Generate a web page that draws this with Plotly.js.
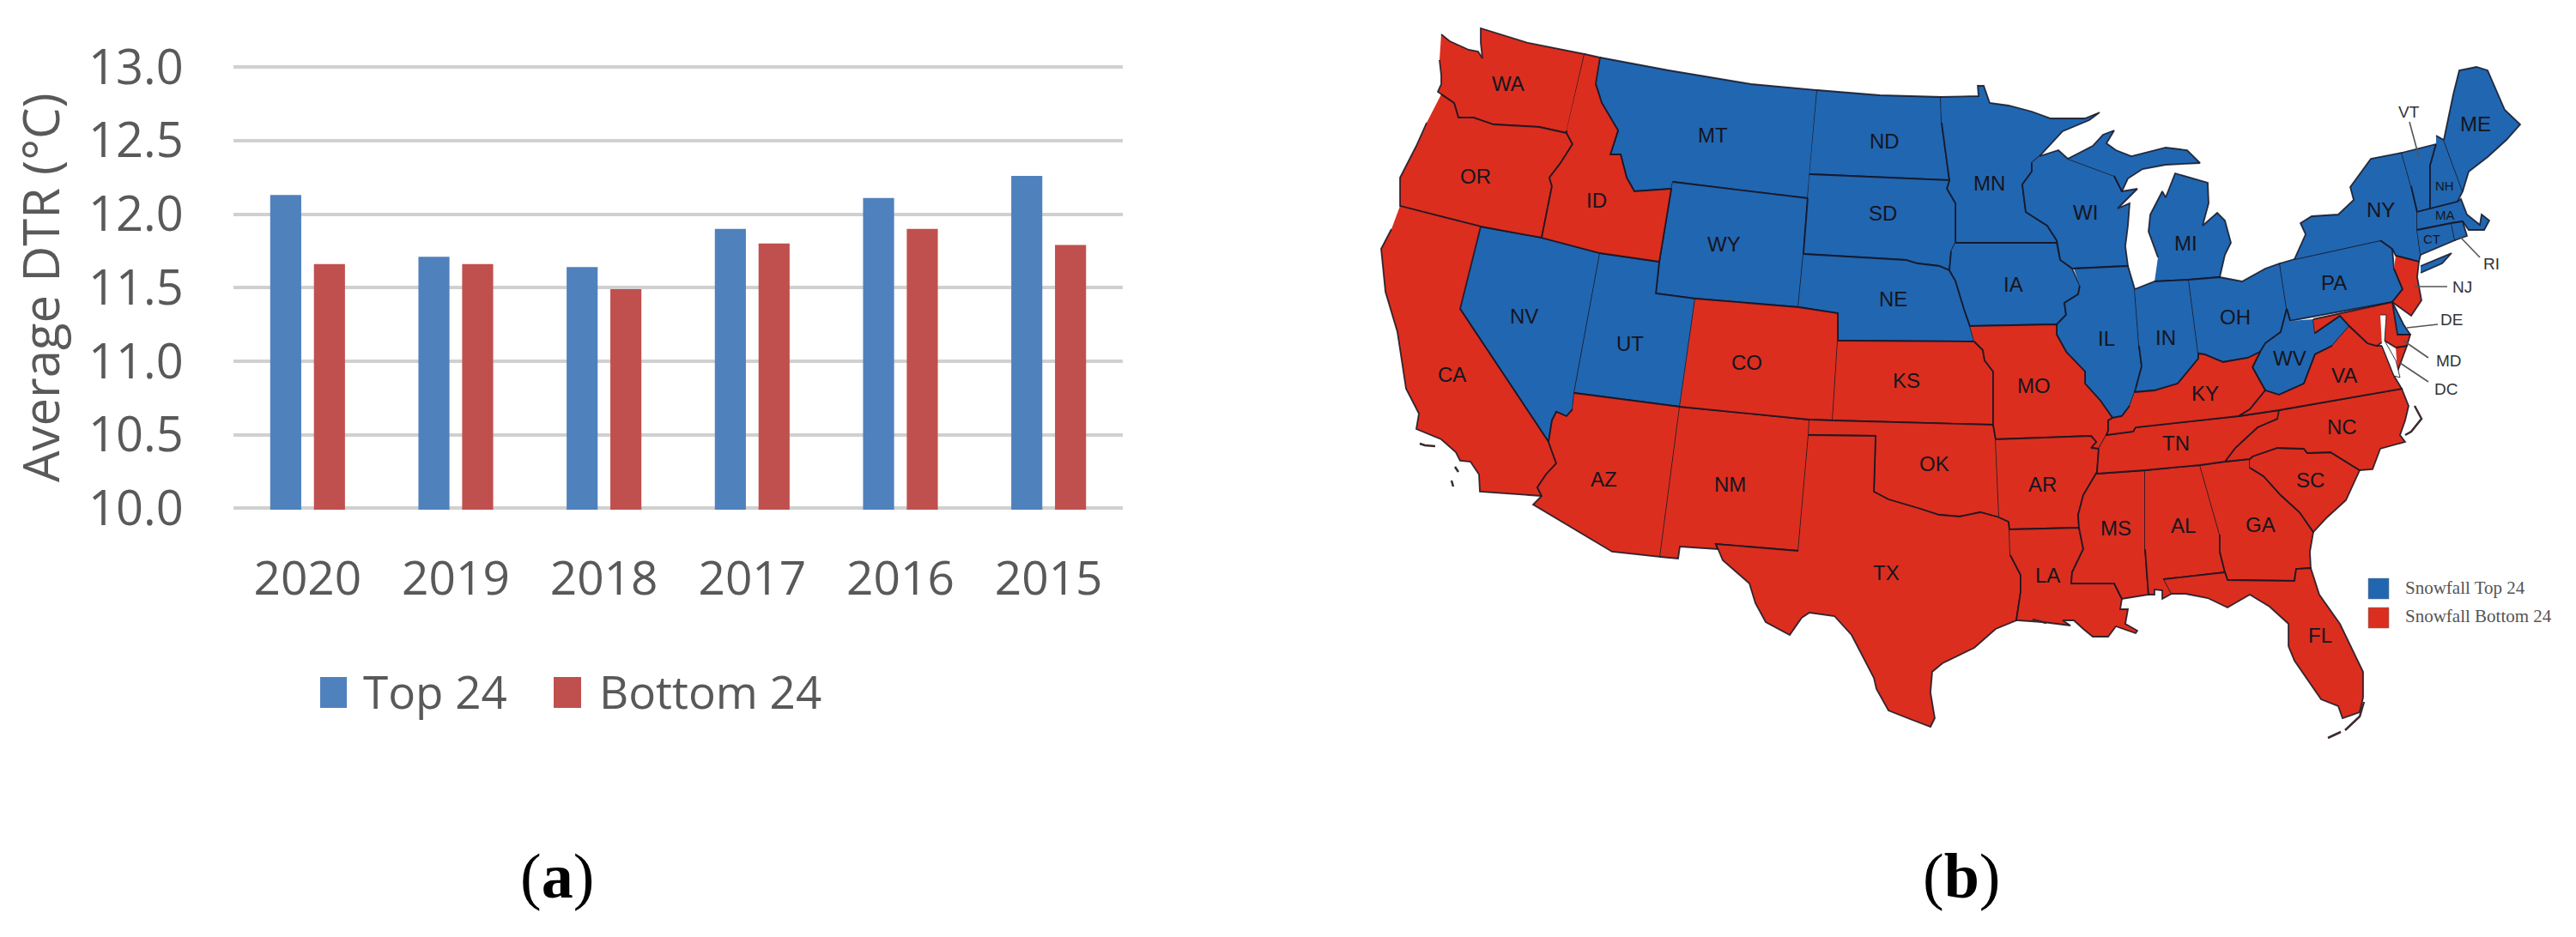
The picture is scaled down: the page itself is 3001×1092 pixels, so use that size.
<!DOCTYPE html>
<html>
<head>
<meta charset="utf-8">
<script src="https://cdn.plot.ly/plotly-3.0.1.min.js"></script>
<style>body{margin:0;background:#fff}</style>
</head>
<body>
<div id="plot" style="width:3001px;height:1092px"></div>
<script>
// bar chart values
var years = ['2020', '2019', '2018', '2017', '2016', '2015'];
var top24 = [12.13, 11.71, 11.64, 11.90, 12.11, 12.26];
var bottom24 = [11.66, 11.66, 11.49, 11.80, 11.90, 11.79];

// state outlines, in picture pixels
var WA = [[1679,40],[1689,48],[1711,58],[1722,60],[1727,68],[1725,50],[1725,33],[1780,50],[1846,63],[1825,152],[1825,155],[1793,148],[1759,146],[1740,145],[1716,137],[1699,137],[1694,120],[1679,110],[1675,107],[1679,98],[1679,88],[1677,70]];
var OR = [[1679,110],[1694,120],[1699,137],[1716,137],[1740,145],[1759,146],[1793,148],[1825,155],[1832,168],[1818,190],[1805,207],[1808,217],[1796,277],[1725,264],[1631,240],[1631,207],[1650,170],[1662,143]];
var ID = [[1846,63],[1864,67],[1859,98],[1866,120],[1885,152],[1876,180],[1888,180],[1895,207],[1904,223],[1947,220],[1933,305],[1864,295],[1796,277],[1808,217],[1805,207],[1818,190],[1832,168],[1825,155],[1825,152]];
var MT = [[1864,67],[1944,82],[2040,98],[2117,105],[2106,231],[1949,212],[1947,220],[1904,223],[1895,207],[1888,180],[1876,180],[1885,152],[1866,120],[1859,98]];
var ND = [[2117,105],[2190,111],[2261,113],[2262,143],[2271,210],[2108,203]];
var SD = [[2108,203],[2271,210],[2268,220],[2278,237],[2278,283],[2273,293],[2271,315],[2259,310],[2234,307],[2220,303],[2101,296],[2106,231]];
var WY = [[1949,212],[2106,231],[2101,296],[2095,358],[1975,348],[1929,342],[1933,305],[1947,220]];
var NE = [[2101,296],[2220,303],[2234,307],[2259,310],[2271,315],[2278,327],[2288,360],[2295,380],[2300,398],[2141,397],[2141,365],[2095,358]];
var NV = [[1725,264],[1796,277],[1864,295],[1834,458],[1832,477],[1825,485],[1813,480],[1808,490],[1804,515],[1701,360]];
var UT = [[1864,295],[1933,305],[1929,342],[1975,348],[1957,474],[1834,458]];
var CA = [[1631,240],[1725,264],[1701,360],[1804,515],[1813,540],[1801,553],[1791,568],[1796,578],[1724,573],[1723,553],[1713,538],[1701,537],[1696,527],[1679,512],[1650,500],[1653,482],[1638,453],[1633,420],[1628,387],[1614,340],[1609,290],[1621,267]];
var AZ = [[1834,458],[1957,474],[1934,649],[1878,643],[1786,588],[1796,578],[1791,568],[1801,553],[1813,540],[1804,515],[1808,490],[1813,480],[1825,485],[1832,477]];
var CO = [[1975,348],[2095,358],[2141,365],[2141,397],[2135,490],[2108,489],[1957,474]];
var NM = [[1957,474],[2108,489],[2107,507],[2095,642],[1999,634],[2001,640],[1957,637],[1955,651],[1934,649]];
var KS = [[2141,397],[2300,398],[2310,408],[2312,420],[2322,433],[2322,495],[2135,490]];
var OK = [[2108,489],[2135,490],[2322,495],[2325,512],[2329,603],[2307,597],[2283,602],[2259,600],[2234,592],[2200,582],[2183,573],[2185,508],[2107,507]];
var TX = [[2107,507],[2185,508],[2183,573],[2200,582],[2234,592],[2259,600],[2283,602],[2307,597],[2329,603],[2340,608],[2341,617],[2342,647],[2354,670],[2354,690],[2349,723],[2325,733],[2300,755],[2263,773],[2251,783],[2249,807],[2254,837],[2249,847],[2225,838],[2200,828],[2186,803],[2183,790],[2157,740],[2137,718],[2108,714],[2099,720],[2085,740],[2057,725],[2045,703],[2038,680],[2007,653],[1999,634],[2095,642]];
var MN = [[2261,113],[2305,112],[2304,100],[2311,100],[2318,120],[2340,123],[2367,130],[2389,138],[2429,138],[2446,131],[2434,140],[2403,153],[2376,182],[2367,190],[2367,200],[2356,215],[2360,247],[2385,263],[2396,280],[2396,283],[2278,283],[2278,237],[2268,220],[2271,210],[2262,143]];
var IA = [[2278,283],[2396,283],[2400,303],[2414,313],[2423,333],[2421,343],[2405,353],[2407,367],[2396,378],[2295,380],[2288,360],[2278,327],[2271,315],[2273,293]];
var MO = [[2295,380],[2396,378],[2396,390],[2407,410],[2429,433],[2429,447],[2447,467],[2461,487],[2456,490],[2456,502],[2454,507],[2445,523],[2436,522],[2442,515],[2436,508],[2325,512],[2322,495],[2322,433],[2312,420],[2310,408],[2300,398]];
var AR = [[2325,512],[2436,508],[2442,515],[2436,522],[2445,523],[2443,550],[2427,577],[2421,600],[2422,615],[2341,617],[2340,608],[2329,603]];
var LA = [[2341,617],[2422,615],[2427,640],[2414,667],[2413,680],[2463,680],[2472,698],[2470,710],[2479,710],[2476,727],[2490,735],[2488,738],[2465,730],[2456,742],[2438,742],[2427,733],[2416,723],[2403,723],[2412,729],[2380,725],[2349,723],[2354,690],[2354,670],[2342,647]];
var WI = [[2376,182],[2398,175],[2409,185],[2463,205],[2472,223],[2490,220],[2467,243],[2481,237],[2479,263],[2476,287],[2479,310],[2416,313],[2414,313],[2400,303],[2396,283],[2396,280],[2385,263],[2360,247],[2356,215],[2367,200],[2367,190]];
var MIupper = [[2409,185],[2438,170],[2450,157],[2463,152],[2454,167],[2465,175],[2483,182],[2523,172],[2548,175],[2563,190],[2523,192],[2496,197],[2479,208],[2472,223],[2463,205]];
var MIlower = [[2510,328],[2550,326],[2586,323],[2592,297],[2599,283],[2592,257],[2583,248],[2566,263],[2573,237],[2572,213],[2534,202],[2523,230],[2519,223],[2505,250],[2503,270],[2514,300]];
var IL = [[2416,313],[2479,310],[2487,337],[2492,403],[2495,427],[2487,457],[2481,473],[2472,485],[2461,487],[2447,467],[2429,447],[2429,433],[2407,410],[2396,390],[2396,378],[2407,367],[2405,353],[2421,343],[2423,333]];
var IN = [[2487,337],[2510,328],[2550,326],[2561,412],[2561,418],[2537,447],[2510,455],[2487,457],[2495,427],[2492,403]];
var OH = [[2550,326],[2586,323],[2612,328],[2639,313],[2656,307],[2664,360],[2657,387],[2639,400],[2633,410],[2619,417],[2590,422],[2568,413],[2561,412]];
var KY = [[2487,457],[2510,455],[2537,447],[2561,418],[2561,412],[2568,413],[2590,422],[2619,417],[2633,410],[2624,428],[2639,455],[2621,477],[2608,485],[2488,498],[2485,503],[2454,507],[2456,502],[2456,490],[2461,487],[2472,485],[2481,473]];
var TN = [[2454,507],[2485,503],[2488,498],[2608,485],[2655,478],[2653,488],[2630,498],[2604,522],[2592,538],[2563,542],[2499,548],[2443,552],[2443,550],[2445,523]];
var MS = [[2443,552],[2499,548],[2499,640],[2503,693],[2472,698],[2463,680],[2413,680],[2414,667],[2427,640],[2422,615],[2421,600],[2427,577],[2443,550]];
var AL = [[2499,548],[2563,542],[2586,623],[2586,643],[2592,667],[2521,675],[2530,692],[2519,698],[2519,688],[2510,687],[2510,693],[2503,693],[2499,640]];
var GA = [[2563,542],[2592,538],[2621,535],[2621,545],[2637,555],[2657,577],[2679,597],[2695,620],[2691,643],[2692,662],[2675,663],[2673,677],[2595,676],[2592,667],[2586,643],[2586,623]];
var FL = [[2521,675],[2592,667],[2595,676],[2673,677],[2675,663],[2692,662],[2702,693],[2726,727],[2753,783],[2753,813],[2749,830],[2729,837],[2724,823],[2704,815],[2673,770],[2666,753],[2666,727],[2644,707],[2621,693],[2595,708],[2572,697],[2546,692],[2530,692]];
var SC = [[2621,535],[2624,532],[2653,522],[2684,523],[2688,528],[2715,527],[2749,548],[2733,583],[2711,603],[2695,620],[2679,597],[2657,577],[2637,555],[2621,545]];
var NC = [[2655,478],[2798,453],[2806,473],[2802,490],[2796,507],[2802,515],[2773,523],[2764,547],[2749,548],[2715,527],[2688,528],[2684,523],[2653,522],[2624,532],[2621,535],[2592,538],[2604,522],[2630,498],[2653,488]];
var VA = [[2737,380],[2758,400],[2769,403],[2775,403],[2789,438],[2798,453],[2655,478],[2608,485],[2621,477],[2639,455],[2655,460],[2684,447],[2697,413],[2717,403]];
var VAshore = [[2791,405],[2804,403],[2793,433]];
var WV = [[2668,374],[2664,360],[2657,387],[2639,400],[2633,410],[2624,428],[2639,455],[2655,460],[2684,447],[2697,413],[2717,403],[2737,380],[2726,368],[2697,388],[2695,372]];
var MD = [[2695,372],[2787,352],[2793,390],[2808,390],[2804,403],[2791,405],[2778,397],[2769,403],[2758,400],[2737,380],[2726,368],[2697,388]];
var DE = [[2787,352],[2800,378],[2808,390],[2793,390]];
var PA = [[2656,307],[2673,302],[2773,280],[2787,290],[2789,313],[2799,337],[2787,352],[2668,374],[2664,360]];
var NJ = [[2791,298],[2818,305],[2816,323],[2821,350],[2809,368],[2787,352],[2799,337],[2789,313]];
var NY = [[2673,302],[2686,273],[2680,260],[2693,252],[2724,250],[2742,233],[2738,218],[2762,185],[2798,178],[2809,217],[2816,247],[2816,268],[2820,297],[2818,305],[2791,298],[2787,290],[2773,280]];
var LongIsland = [[2820,310],[2856,295],[2845,307],[2820,318]];
var VT = [[2798,178],[2838,168],[2831,193],[2831,243],[2816,247],[2809,217]];
var NH = [[2838,158],[2847,163],[2869,223],[2863,235],[2831,243],[2831,193],[2838,168]];
var ME = [[2847,163],[2854,130],[2858,110],[2865,82],[2885,78],[2898,82],[2918,128],[2936,145],[2920,163],[2898,183],[2876,200],[2869,223]];
var MA = [[2816,247],[2831,243],[2863,235],[2867,232],[2874,250],[2889,262],[2891,250],[2900,257],[2894,268],[2876,268],[2869,258],[2856,260],[2816,268]];
var CT = [[2816,268],[2856,260],[2860,280],[2820,297]];
var RI = [[2856,260],[2869,258],[2874,275],[2860,280]];

var topOutlines = [MT, ND, MN, WI, MIupper, MIlower, WY, SD, NE, IA, IL, IN, OH, PA, NY, LongIsland, NV, UT, WV, VT, NH, ME, MA, CT, RI, DE];
var bottomOutlines = [WA, OR, ID, CA, AZ, NM, CO, KS, OK, TX, MO, AR, LA, MS, AL, GA, FL, SC, NC, TN, KY, VA, VAshore, MD, NJ];

// bits of coast that are only thin marks
var bayGap = [[2773,367],[2780,367],[2778,397],[2791,420],[2796,440],[2789,438],[2775,403]];
var smallCoast = [
    [[1654,517],[1660,519],[1672,520]],
    [[1695,544],[1699,550]],
    [[1691,560],[1693,567]],
    [[2754,818],[2749,835],[2732,851]],
    [[2727,853],[2712,860]],
    [[2813,473],[2821,488],[2809,503],[2802,507]],
    [[2368,722],[2384,726]]
];
var leaders = [
    [[2807,142],[2818,183]],
    [[2813,334],[2851,334]],
    [[2804,382],[2826,380],[2840,378]],
    [[2800,397],[2829,417]],
    [[2796,423],[2829,445]],
    [[2865,275],[2889,300]]
];

// state labels
var bigCodes = ['WA','OR','ID','MT','ND','MN','SD','WY','NE','NV','UT','CO','KS','CA','AZ','NM','OK','TX','WI','MI','IA','IL','IN','OH','PA','NY','ME','WV','VA','KY','MO','NC','TN','AR','SC','MS','AL','GA','LA','FL'];
var bigX = [1757,1719,1860,1995,2195,2317,2193,2008,2205,1775,1899,2035,2221,1691,1868,2015,2253,2197,2429,2546,2345,2454,2523,2604,2719,2773,2884,2667,2731,2569,2369,2728,2535,2379,2691,2465,2543,2633,2385,2703];
var bigY = [97,205,233,157,164,213,248,284,348,368,400,422,443,436,558,564,540,667,247,283,331,394,393,369,329,244,144,417,437,458,449,497,516,564,559,615,612,611,670,740];
var smallCodes = ['NH','MA','CT'];
var smallX = [2848,2848,2833];
var smallY = [216,250,278];
var sideCodes = ['VT','RI','NJ','DE','MD','DC'];
var sideX = [2806,2902,2868,2856,2853,2849];
var sideY = [130,307,334,372,420,453];

var blue = '#2166B0', red = '#DB2E1E', edge = 'rgba(20,20,35,0.85)';
var barBlue = '#4F81BD', barRed = '#C0504D', axisGrey = '#595959';

function xs(pts) { return pts.map(function (p) { return p[0]; }); }
function ys(pts) { return pts.map(function (p) { return p[1]; }); }

function stateTrace(pts, color) {
    return {
        type: 'scatter', mode: 'lines', xaxis: 'x2', yaxis: 'y2',
        x: xs(pts), y: ys(pts),
        fill: 'toself', fillcolor: color,
        line: { color: edge, width: 1.8 },
        hoverinfo: 'skip', showlegend: false
    };
}
function lineTrace(pts, color, width) {
    return {
        type: 'scatter', mode: 'lines', xaxis: 'x2', yaxis: 'y2',
        x: xs(pts), y: ys(pts),
        line: { color: color, width: width },
        hoverinfo: 'skip', showlegend: false
    };
}

var data = [
    { type: 'bar', name: 'Top 24', x: years, y: top24, marker: { color: barBlue } },
    { type: 'bar', name: 'Bottom 24', x: years, y: bottom24, marker: { color: barRed } }
];
topOutlines.forEach(function (o) { data.push(stateTrace(o, blue)); });
bottomOutlines.forEach(function (o) { data.push(stateTrace(o, red)); });
data.push({
    type: 'scatter', mode: 'lines', xaxis: 'x2', yaxis: 'y2',
    x: xs(bayGap), y: ys(bayGap), fill: 'toself', fillcolor: '#fff',
    line: { color: edge, width: 1 }, hoverinfo: 'skip', showlegend: false
});
smallCoast.forEach(function (o) { data.push(lineTrace(o, '#3a2a2a', 2.5)); });
leaders.forEach(function (o) { data.push(lineTrace(o, '#555', 1.6)); });

var annotations = [];
function stateLabels(codes, lx, ly, size, color) {
    codes.forEach(function (c, i) {
        annotations.push({
            xref: 'x2', yref: 'y2', x: lx[i], y: ly[i], text: c, showarrow: false,
            font: { family: 'Liberation Sans', size: size, color: color }
        });
    });
}
stateLabels(bigCodes, bigX, bigY, 24, '#15151f');
stateLabels(smallCodes, smallX, smallY, 15, '#15151f');
stateLabels(sideCodes, sideX, sideY, 19, '#333');

function mapText(text, x, y, font) {
    annotations.push({
        xref: 'x2', yref: 'y2', x: x, y: y, text: text, showarrow: false, xanchor: 'left', yanchor: 'middle', font: font
    });
}
mapText('Snowfall Top 24', 2800, 685, { family: 'Liberation Serif', size: 21, color: '#555' });
mapText('Snowfall Bottom 24', 2800, 718, { family: 'Liberation Serif', size: 21, color: '#555' });

function pixelText(text, x, y, anchor, font) {
    annotations.push({
        xref: 'paper', yref: 'paper', x: x / 3001, y: 1 - y / 1092, text: text, showarrow: false,
        xanchor: anchor, yanchor: 'middle', font: font
    });
}
var barLegendFont = { family: 'Open Sans', size: 53, color: axisGrey };
pixelText('Top 24', 421, 805, 'left', barLegendFont);
pixelText('Bottom 24', 696, 805, 'left', barLegendFont);
var captionFont = { family: 'Liberation Serif', size: 74, color: '#000' };
pixelText('(<b>a</b>)', 649, 1021, 'center', captionFont);
pixelText('(<b>b</b>)', 2285, 1021, 'center', captionFont);

function swatch(x0, x1, y0, y1, color) {
    return { type: 'rect', xref: 'x2', yref: 'y2', x0: x0, x1: x1, y0: y0, y1: y1, fillcolor: color, line: { width: 1, color: 'rgba(120,120,120,0.5)' } };
}
function barSwatch(x0, x1, color) {
    return { type: 'rect', xref: 'paper', yref: 'paper', x0: x0 / 3001, x1: x1 / 3001, y0: 1 - 825 / 1092, y1: 1 - 789 / 1092, fillcolor: color, line: { width: 0 } };
}

var layout = {
    width: 3001,
    height: 1092,
    margin: { l: 0, r: 0, t: 0, b: 0 },
    paper_bgcolor: '#fff',
    plot_bgcolor: 'rgba(0,0,0,0)',
    showlegend: false,
    barmode: 'group',
    bargap: 0.41,
    bargroupgap: 0.29,
    xaxis: {
        domain: [272 / 3001, 1308 / 3001],
        type: 'category',
        showgrid: false, showline: false, zeroline: false,
        ticks: 'outside', ticklen: 32, tickcolor: 'rgba(0,0,0,0)',
        tickfont: { family: 'Open Sans', size: 55, color: axisGrey }
    },
    yaxis: {
        domain: [1 - 594 / 1092, 1 - 76.5 / 1092],
        range: [9.99, 13.01],
        tick0: 10,
        dtick: 0.5,
        tickformat: '.1f',
        gridcolor: '#D0D0D0', gridwidth: 4,
        zeroline: false, showline: false,
        ticks: 'outside', ticklen: 46, tickcolor: 'rgba(0,0,0,0)',
        tickfont: { family: 'Open Sans', size: 56, color: axisGrey },
        title: { text: 'Average DTR (°C)', standoff: 14, font: { family: 'Open Sans', size: 58, color: axisGrey } }
    },
    xaxis2: { domain: [1580 / 3001, 1], range: [1580, 3001], visible: false, fixedrange: true, anchor: 'y2' },
    yaxis2: { domain: [0, 1], range: [1092, 0], visible: false, fixedrange: true, anchor: 'x2' },
    annotations: annotations,
    shapes: [
        barSwatch(373, 404, barBlue),
        barSwatch(645, 677, barRed),
        swatch(2759, 2783, 674, 698, blue),
        swatch(2759, 2783, 708, 732, red)
    ]
};

Plotly.newPlot(document.getElementById('plot'), data, layout, { displayModeBar: false, staticPlot: true });
</script>
</body>
</html>
